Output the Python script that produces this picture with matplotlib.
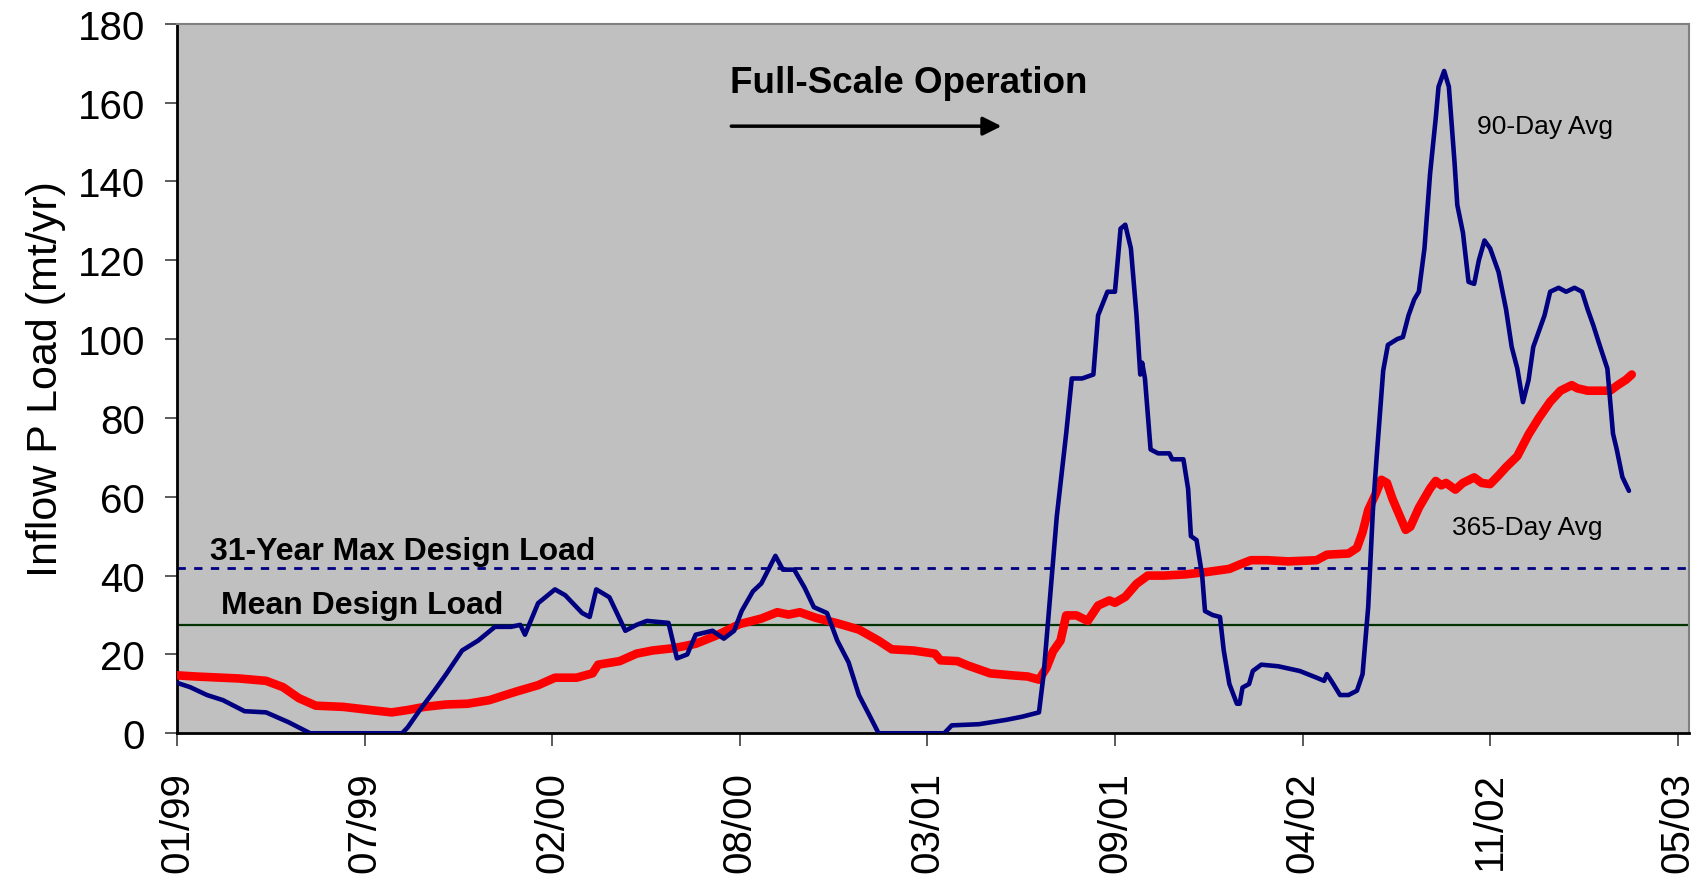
import pandas as pd
import numpy as np
import matplotlib
matplotlib.use('Agg')
import matplotlib.pyplot as plt

plt.rcParams['font.family'] = ['Liberation Sans', 'DejaVu Sans']

start = pd.Timestamp('1999-01-01')

# 90-day average (days since 01/01/1999, load mt/yr)
avg90_days = [0, 14, 32, 49, 72, 95, 119, 142, 159, 240, 246, 258, 275, 287, 304, 321,
              339, 356, 366, 371, 385, 403, 414, 432, 440, 447, 461, 478, 490, 501, 524,
              533, 544, 553, 571, 583, 594, 602, 614, 623, 638, 646, 658, 669, 679, 693,
              704, 716, 727, 739, 748, 818, 826, 855, 884, 901, 919, 924, 930, 938, 948,
              954, 965, 977, 982, 992, 1000, 1006, 1011, 1017, 1023, 1027, 1029, 1032,
              1038, 1046, 1058, 1061, 1073, 1078, 1081, 1087, 1093, 1096, 1104, 1112,
              1116, 1122, 1130, 1133, 1136, 1143, 1147, 1156, 1174, 1197, 1215, 1223,
              1226, 1232, 1240, 1249, 1258, 1264, 1270, 1275, 1279, 1286, 1291, 1301,
              1307, 1313, 1319, 1324, 1330, 1336, 1342, 1345, 1351, 1356, 1362, 1365,
              1371, 1377, 1383, 1388, 1394, 1400, 1409, 1417, 1423, 1429, 1435, 1441,
              1446, 1452, 1458, 1464, 1473, 1481, 1490, 1498, 1504, 1510, 1516, 1525,
              1531, 1535, 1541, 1548]
avg90_vals = [12.8, 11.7, 9.7, 8.4, 5.6, 5.3, 2.8, 0, 0, 0, 1.5, 5.6, 11, 15, 21, 23.5,
              27, 27, 27.5, 25, 33, 36.5, 35, 30.5, 29.5, 36.5, 34.5, 26, 27.5, 28.5, 28,
              19, 20, 25, 26, 24, 26, 31, 36, 38, 45, 41.5, 41.5, 37, 32, 30.5,
              23.5, 18, 9.7, 4.2, 0, 0, 2, 2.3, 3.4, 4.2, 5.3, 15, 32, 55, 76,
              90, 90, 91, 106, 112, 112, 128, 129, 123, 106, 91, 94, 90,
              72, 71, 71, 69.5, 69.5, 62, 50, 49, 40, 31, 30, 29.5,
              21, 12.5, 7.5, 7.5, 11.6, 12.5, 15.8, 17.4, 17, 15.8, 14.1, 13.3,
              15, 12.8, 9.7, 9.7, 10.8, 15, 32, 56.5, 70, 92, 98.5, 100,
              100.5, 106, 110, 112, 123, 142, 156, 164, 168, 164, 145, 134,
              127, 114.5, 114, 120, 125, 123, 117, 107.5, 98, 92.5, 84, 89.6,
              98, 102, 106, 112, 113, 112, 113, 112, 107.5, 103.5, 99, 92.5,
              76, 72, 65, 61.5]

# 365-day average
avg365_days = [0, 20, 66, 95, 113, 130, 148, 177, 206, 229, 246, 264, 287, 310, 333, 362,
               385, 403, 426, 443, 449, 472, 490, 507, 530, 553, 576, 600, 623, 640, 652,
               664, 681, 704, 727, 748, 762, 785, 808, 814, 832, 843, 867, 890, 907, 919,
               927, 934, 942, 948, 959, 971, 982, 994, 1000, 1011, 1023, 1035, 1052, 1075,
               1098, 1122, 1133, 1145, 1162, 1185, 1215, 1226, 1249, 1258, 1264, 1270,
               1278, 1284, 1290, 1296, 1301, 1310, 1315, 1324, 1336, 1342, 1348, 1353,
               1363, 1371, 1383, 1391, 1400, 1409, 1417, 1429, 1441, 1452, 1464, 1475,
               1487, 1493, 1504, 1516, 1528, 1536, 1545, 1551]
avg365_vals = [14.7, 14.4, 13.9, 13.3, 11.7, 8.9, 7, 6.7, 5.9, 5.3, 5.9, 6.7, 7.3, 7.5, 8.4,
               10.6, 12.2, 14.1, 14.1, 15.2, 17.4, 18.3, 20.2, 21, 21.6, 22.7, 24.9, 27.7,
               29.1, 30.7, 30.1, 30.7, 29.3, 27.9, 26.3, 23.5, 21.3, 21, 20.2, 18.5, 18.3,
               17.2, 15.2, 14.7, 14.4, 13.6, 16.6, 20.8, 23.5, 29.9, 29.9, 28.5, 32.4,
               33.7, 33.1, 34.6, 37.9, 40, 40, 40.3, 40.9, 41.7, 42.8, 43.9, 43.9, 43.6,
               43.9, 45.3, 45.6, 47, 51, 56.6, 60.7, 64.3, 63.5, 59.4, 56.6, 51.6, 52.4,
               57.2, 62.1, 64, 62.9, 63.5, 61.8, 63.5, 64.9, 63.5, 63.2, 65.4, 67.5,
               70.3, 75.8, 80, 84.1, 86.9, 88.3, 87.5, 86.9, 86.9, 86.9, 88.3, 89.7, 91]

max_design_load = 42.0
mean_design_load = 27.4
tick_days = [0, 200, 400, 600, 800, 1000, 1200, 1400, 1600]
end_day = 1612


def to_dates(days):
    return start + pd.to_timedelta(days, unit='D')


fig = plt.figure(figsize=(17.05, 8.78), dpi=100)
ax = fig.add_axes([0.1038, 0.1637, 0.8868, 0.8082])
ax.set_facecolor('#c0c0c0')

ax.axhline(max_design_load, color='#000080', lw=2, ls=(0, (3, 3)), zorder=2)
ax.axhline(mean_design_load, color='#003300', lw=1.6, zorder=2)

ax.plot(to_dates(avg365_days), avg365_vals, color='#ff0000', lw=6.2,
        solid_joinstyle='round', solid_capstyle='round', zorder=3)
ax.plot(to_dates(avg90_days), avg90_vals, color='#000080', lw=3.3,
        solid_joinstyle='round', solid_capstyle='round', zorder=4)

ax.set_xlim(start, to_dates([end_day])[0])
ax.set_ylim(0, 180)
ax.set_yticks(np.arange(0, 181, 20))
ticks = to_dates(tick_days)
ax.set_xticks(ticks)
ax.set_xticklabels([t.strftime('%m/%y') for t in ticks], rotation=90)

ax.tick_params(axis='both', direction='out', length=9, width=1.2, color='#404040',
               labelsize=29)
ax.tick_params(axis='y', pad=14)
ax.tick_params(axis='x', pad=18)
for side in ['left', 'bottom']:
    ax.spines[side].set_color('black')
    ax.spines[side].set_linewidth(2)
for side in ['top', 'right']:
    ax.spines[side].set_color('#808080')
    ax.spines[side].set_linewidth(1.5)

ax.set_ylabel('Inflow P Load (mt/yr)', fontsize=31, labelpad=8)

# annotations
ax.text(to_dates([590])[0], 165, 'Full-Scale Operation', fontsize=26.5,
        fontweight='bold', va='center', ha='left')
ax.annotate('', xy=(to_dates([882])[0], 154), xytext=(to_dates([588])[0], 154),
            arrowprops=dict(arrowstyle='-|>', color='black', lw=2.5,
                            mutation_scale=28))
ax.text(to_dates([1386])[0], 154, '90-Day Avg', fontsize=19, va='center', ha='left')
ax.text(to_dates([1359])[0], 52.4, '365-Day Avg', fontsize=19, va='center', ha='left')
ax.text(to_dates([35])[0], 46.3, '31-Year Max Design Load', fontsize=23,
        fontweight='bold', va='center', ha='left')
ax.text(to_dates([47])[0], 32.6, 'Mean Design Load', fontsize=23,
        fontweight='bold', va='center', ha='left')

plt.savefig('out.png', dpi=100)
plt.close()
